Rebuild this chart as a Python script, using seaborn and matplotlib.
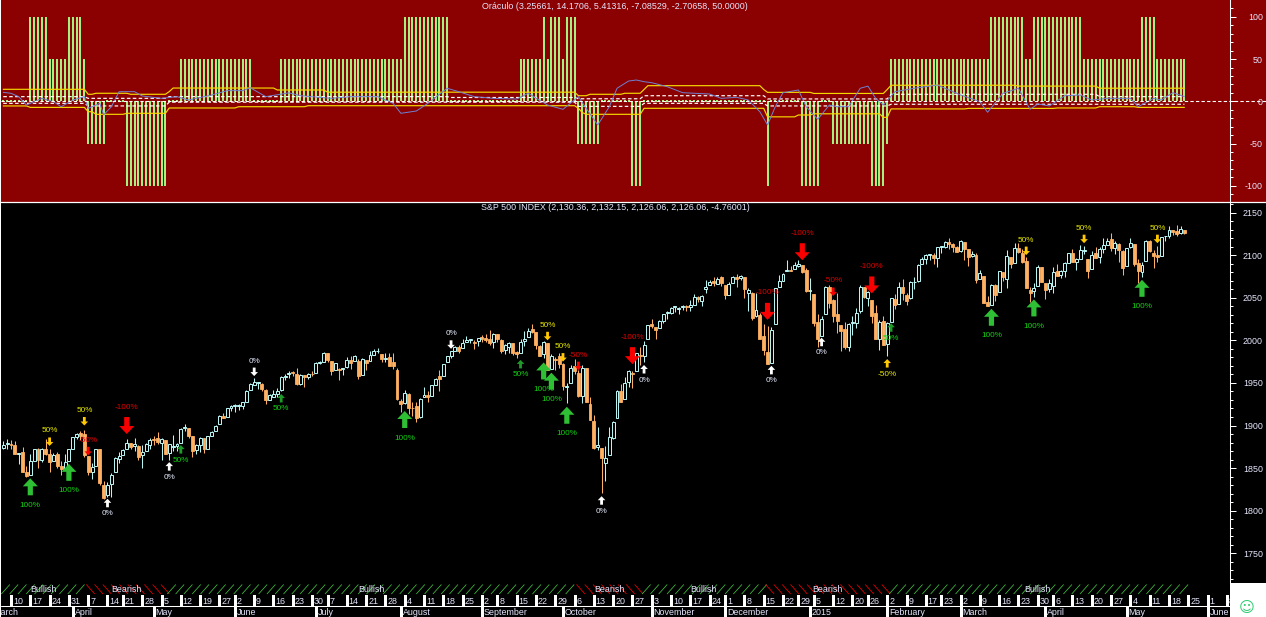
import numpy as np
import pandas as pd
import matplotlib
matplotlib.use('Agg')
import matplotlib.pyplot as plt
import seaborn as sns
from matplotlib.lines import Line2D
from matplotlib.patches import Polygon, Rectangle
from matplotlib.ticker import MultipleLocator

# daily S&P 500 candles, one line per week, first bar 2014-03-06
opens = [1874, 1878,
    1878, 1877, 1866, 1869, 1845, 1842, 1858, 1872, 1860, 1873, 1867, 1858, 1867, 1853, 1850,
    1858, 1873, 1886, 1891, 1890, 1864, 1845, 1852, 1872, 1830, 1818, 1831, 1846, 1861,
    1865, 1872, 1879, 1876, 1876, 1865, 1870, 1877, 1884, 1885, 1879, 1883, 1868, 1875, 1876,
    1880, 1897, 1897, 1888, 1871, 1877, 1885, 1873, 1888, 1893, 1902, 1911, 1910, 1920,
    1923, 1923, 1923, 1928, 1942, 1948, 1950, 1949, 1942, 1930, 1934, 1937, 1942, 1957, 1960,
    1963, 1961, 1949, 1959, 1957, 1961, 1962, 1973, 1975, 1985, 1976, 1965, 1966, 1966,
    1969, 1977, 1976, 1976, 1959, 1977, 1976, 1983, 1987, 1984, 1978, 1980, 1974, 1965, 1929,
    1926, 1937, 1921, 1923, 1910, 1933, 1936, 1935, 1947, 1958, 1958, 1974, 1981, 1987, 1992,
    1991, 1998, 2000, 1998, 1999, 2004, 2003, 2001, 1998, 2007, 2000, 1989, 1992, 1997,
    1986, 1985, 1999, 2004, 2013, 2010, 1993, 1984, 1997, 1966, 1978, 1981, 1972, 1945, 1950,
    1970, 1962, 1935, 1967, 1925, 1905, 1875, 1874, 1856, 1865, 1885, 1909, 1941, 1931, 1951,
    1962, 1964, 1983, 1982, 2002, 2019, 2016, 2015, 2023, 2032, 2032, 2039, 2037, 2039, 2040,
    2039, 2042, 2051, 2046, 2060, 2065, 2070, 2066, 2074, 2065, 2053, 2067, 2074, 2073,
    2074, 2056, 2056, 2028, 2030, 2005, 1986, 1973, 2019, 2062, 2070, 2081, 2083, 2084,
    2087, 2088, 2083, 2058, 2054, 2022, 2005, 2031, 2063, 2047, 2031, 2018, 2013, 1992,
    2020, 2020, 2034, 2062, 2050, 2047, 2032, 2002, 2023, 1996, 2022, 2048, 2043, 2062,
    2053, 2050, 2068, 2070, 2089, 2096, 2100, 2100, 2097, 2110, 2110, 2115, 2113, 2110,
    2105, 2115, 2107, 2099, 2100, 2072, 2076, 2045, 2041, 2065, 2057, 2080, 2072, 2098, 2091,
    2108, 2103, 2093, 2059, 2058, 2064, 2086, 2067, 2060, 2064, 2081, 2077, 2081, 2091,
    2102, 2092, 2096, 2105, 2096, 2084, 2102, 2098, 2107, 2112, 2119, 2108, 2113, 2105, 2087,
    2110, 2113, 2091, 2080, 2093, 2116, 2103, 2100, 2099, 2122, 2122, 2129, 2128, 2126, 2130]
closes = [1877, 1878,
    1877, 1867, 1868, 1846, 1841, 1858, 1872, 1860, 1872, 1866, 1857, 1865, 1852, 1849, 1857,
    1872, 1886, 1890, 1888, 1865, 1845, 1851, 1872, 1833, 1815, 1830, 1842, 1862, 1864,
    1871, 1879, 1875, 1878, 1863, 1869, 1878, 1883, 1883, 1881, 1884, 1867, 1878, 1875, 1878,
    1896, 1897, 1888, 1870, 1877, 1885, 1872, 1888, 1892, 1900, 1911, 1909, 1920, 1923,
    1924, 1924, 1927, 1940, 1949, 1951, 1950, 1943, 1930, 1936, 1937, 1941, 1957, 1957, 1962,
    1962, 1949, 1959, 1957, 1961, 1960, 1973, 1974, 1985, 1977, 1964, 1973, 1965, 1968,
    1977, 1973, 1981, 1958, 1978, 1973, 1983, 1987, 1987, 1978, 1978, 1970, 1970, 1931, 1925,
    1938, 1920, 1920, 1909, 1931, 1936, 1933, 1947, 1955, 1955, 1972, 1981, 1987, 1992, 1988,
    1997, 2000, 2000, 1997, 2003, 2002, 2000, 1997, 2007, 2001, 1988, 1995, 1997, 1985,
    1984, 1998, 2001, 2011, 2010, 1994, 1982, 1998, 1965, 1982, 1977, 1972, 1946, 1946, 1967,
    1964, 1935, 1968, 1928, 1906, 1874, 1877, 1862, 1862, 1886, 1904, 1941, 1927, 1950, 1964,
    1961, 1985, 1982, 1994, 2018, 2017, 2012, 2023, 2031, 2032, 2038, 2039, 2038, 2039, 2039,
    2041, 2051, 2048, 2052, 2063, 2069, 2067, 2072, 2067, 2053, 2066, 2074, 2072, 2075,
    2060, 2059, 2026, 2035, 2002, 1989, 1972, 2012, 2061, 2070, 2078, 2082, 2081, 2088,
    2090, 2080, 2058, 2058, 2020, 2002, 2025, 2062, 2044, 2028, 2023, 2011, 1992, 2019,
    2022, 2032, 2063, 2051, 2057, 2029, 2002, 2021, 1994, 2020, 2050, 2041, 2062, 2055,
    2046, 2068, 2068, 2088, 2096, 2100, 2100, 2097, 2110, 2110, 2115, 2113, 2110, 2104,
    2117, 2107, 2098, 2101, 2071, 2079, 2044, 2040, 2065, 2053, 2081, 2074, 2099, 2089, 2108,
    2104, 2092, 2061, 2056, 2061, 2086, 2068, 2059, 2067, 2080, 2076, 2081, 2091, 2102,
    2092, 2095, 2106, 2105, 2081, 2100, 2097, 2107, 2112, 2117, 2108, 2114, 2106, 2085, 2108,
    2114, 2089, 2081, 2088, 2116, 2105, 2099, 2098, 2121, 2122, 2129, 2127, 2125, 2131, 2126]
highs = [1882, 1884,
    1883, 1882, 1868, 1875, 1852, 1866, 1873, 1874, 1874, 1884, 1873, 1868, 1869, 1858, 1867,
    1873, 1886, 1891, 1893, 1895, 1864, 1856, 1872, 1873, 1835, 1834, 1844, 1863, 1869,
    1872, 1884, 1879, 1885, 1877, 1877, 1880, 1885, 1888, 1892, 1885, 1883, 1878, 1889, 1880,
    1897, 1902, 1897, 1888, 1878, 1887, 1885, 1888, 1894, 1901, 1912, 1915, 1921, 1924,
    1925, 1925, 1928, 1942, 1950, 1956, 1951, 1950, 1943, 1937, 1942, 1944, 1958, 1960, 1964,
    1964, 1968, 1960, 1959, 1962, 1964, 1974, 1976, 1986, 1985, 1976, 1973, 1967, 1968,
    1980, 1982, 1983, 1978, 1979, 1977, 1987, 1990, 1991, 1984, 1985, 1985, 1985, 1967, 1931,
    1942, 1938, 1927, 1928, 1932, 1945, 1940, 1948, 1956, 1965, 1972, 1982, 1987, 1993, 1994,
    2002, 2005, 2002, 2000, 2003, 2006, 2007, 2012, 2008, 2007, 2002, 1996, 1998, 1997,
    1987, 2002, 2011, 2014, 2019, 2010, 1995, 1999, 1997, 1984, 1980, 1985, 1973, 1950, 1971,
    1978, 1965, 1971, 1967, 1934, 1912, 1898, 1874, 1876, 1898, 1905, 1942, 1949, 1957, 1965,
    1964, 1985, 1992, 1999, 2018, 2025, 2016, 2024, 2031, 2034, 2039, 2040, 2039, 2042, 2042,
    2047, 2054, 2052, 2053, 2071, 2071, 2074, 2074, 2076, 2065, 2069, 2076, 2078, 2077,
    2074, 2061, 2057, 2056, 2032, 2019, 2017, 2016, 2061, 2077, 2079, 2094, 2087, 2092,
    2094, 2088, 2085, 2073, 2054, 2031, 2029, 2064, 2065, 2049, 2056, 2018, 2022, 2020,
    2029, 2038, 2065, 2063, 2058, 2047, 2042, 2024, 2029, 2022, 2050, 2054, 2068, 2072,
    2056, 2070, 2074, 2089, 2098, 2101, 2101, 2102, 2110, 2111, 2116, 2120, 2114, 2111,
    2118, 2115, 2107, 2105, 2102, 2082, 2076, 2052, 2066, 2066, 2081, 2080, 2106, 2098, 2114,
    2114, 2107, 2098, 2063, 2067, 2088, 2086, 2067, 2072, 2086, 2089, 2083, 2092, 2103,
    2107, 2097, 2112, 2111, 2096, 2105, 2110, 2109, 2120, 2120, 2126, 2116, 2114, 2106, 2108,
    2120, 2113, 2095, 2092, 2118, 2118, 2106, 2111, 2121, 2123, 2134, 2130, 2135, 2134, 2130]
lows = [1872, 1872,
    1873, 1866, 1855, 1845, 1840, 1842, 1858, 1850, 1857, 1865, 1846, 1858, 1850, 1842, 1850,
    1858, 1873, 1884, 1883, 1863, 1842, 1837, 1852, 1830, 1814, 1816, 1816, 1846, 1856,
    1865, 1872, 1873, 1870, 1859, 1850, 1870, 1872, 1877, 1878, 1860, 1867, 1859, 1870, 1870,
    1880, 1894, 1885, 1863, 1866, 1869, 1868, 1873, 1888, 1893, 1902, 1909, 1910, 1917,
    1916, 1918, 1919, 1928, 1942, 1947, 1943, 1940, 1925, 1930, 1934, 1933, 1941, 1953, 1956,
    1958, 1948, 1948, 1945, 1954, 1958, 1962, 1972, 1975, 1975, 1959, 1965, 1953, 1959,
    1968, 1966, 1976, 1955, 1959, 1965, 1976, 1983, 1985, 1975, 1974, 1970, 1966, 1930, 1916,
    1925, 1913, 1911, 1904, 1909, 1933, 1928, 1935, 1947, 1941, 1958, 1974, 1979, 1987, 1985,
    1991, 1998, 1997, 1990, 1993, 1998, 1998, 1994, 1991, 1998, 1985, 1984, 1985, 1983,
    1979, 1985, 1993, 2004, 2008, 1990, 1982, 1979, 1965, 1966, 1965, 1968, 1942, 1926, 1950,
    1960, 1934, 1926, 1927, 1906, 1873, 1871, 1821, 1835, 1865, 1884, 1909, 1927, 1931, 1945,
    1944, 1964, 1971, 1974, 2001, 2014, 2002, 2015, 2020, 2025, 2031, 2033, 2031, 2035, 2034,
    2034, 2042, 2045, 2040, 2056, 2065, 2064, 2066, 2064, 2048, 2053, 2067, 2062, 2071,
    2050, 2034, 2024, 2027, 2002, 1983, 1972, 1973, 2019, 2062, 2070, 2081, 2081, 2084,
    2086, 2079, 2057, 2047, 2017, 1992, 2005, 2031, 2038, 2022, 2008, 1988, 1990, 1988,
    2006, 2015, 2032, 2050, 2040, 2020, 2001, 1989, 1994, 1981, 2022, 2037, 2043, 2047,
    2041, 2048, 2060, 2069, 2089, 2090, 2094, 2090, 2086, 2103, 2108, 2107, 2104, 2104,
    2104, 2094, 2087, 2098, 2067, 2072, 2044, 2040, 2041, 2046, 2057, 2070, 2061, 2085, 2091,
    2103, 2091, 2061, 2045, 2051, 2064, 2068, 2049, 2057, 2056, 2075, 2073, 2074, 2091,
    2092, 2083, 2096, 2101, 2073, 2084, 2097, 2091, 2103, 2112, 2105, 2101, 2092, 2077, 2087,
    2108, 2087, 2067, 2074, 2093, 2104, 2085, 2092, 2099, 2117, 2120, 2124, 2122, 2125, 2125]

# oscillator signal per bar, as level and number of bars
signal_levels = [0, 100, 50, 100, 50, -50, 0, -100, 0, 50, 0, 50, 100, 0, 50, 100, 50, 100, 50, 100,
    -50, 0, -100, 0, -100, 0, -100, 0, -50, -100, -50, 50, 100, 50, 100, 50, 100, 50]
signal_runs = [7, 5, 5, 4, 1, 5, 5, 11, 3, 19, 7, 32, 12, 18, 6, 1, 1, 3, 1, 3,
    6, 8, 3, 32, 1, 8, 5, 3, 10, 4, 1, 26, 9, 2, 13, 15, 4, 8]

upper_levels = [14.2, 8.3, 9.5, 8.3, 11.5, 15.7, 13.4, 10.8, 6.6, 8.3, 9.5, 14, 18.5, 14, 10.6, 9.3, 14, 19, 18, 15.5]
upper_runs = [22, 2, 9, 10, 1, 27, 13, 65, 3, 9, 5, 1, 30, 1, 12, 19, 1, 33, 21, 23]
lower_levels = [-5.5, -7.2, -12.3, -15.4, -14.2, -7.9, -6.4, -5.2, -8.3, -13.3, -15.4, -8.3, -18.4, -16.2, -14.8, -19, -9, -8.4, -7.9, -6.4, -7.2]
lower_runs = [7, 15, 2, 8, 11, 18, 18, 70, 1, 1, 15, 32, 8, 4, 18, 2, 20, 23, 11, 10, 13]
white_upper_levels = [5.5, 3.5, 5.5, 4.5, 3, 6.6, 2.8, 8.3, 5.5]
white_upper_runs = [22, 21, 73, 33, 17, 32, 32, 54, 23]
white_lower_levels = [-2.4, -5.5, -1, -6, -2.4, -5.5, -3.5]
white_lower_runs = [22, 21, 106, 17, 32, 32, 77]

blue_bars = [0, 2, 4, 6, 8, 10, 13, 15, 18, 21, 22, 25, 26, 28, 30, 34, 36, 41, 45, 48, 54, 58, 62, 64, 68, 74, 77, 85,
    90, 97, 101, 103, 107, 110, 115, 118, 122, 127, 133, 136, 141, 145, 149, 151, 154, 157, 159, 162, 164, 166,
    168, 172, 176, 183, 186, 190, 193, 196, 198, 200, 202, 206, 208, 211, 214, 216, 219, 222, 224, 226, 228, 231,
    236, 242, 248, 253, 255, 259, 263, 266, 268, 271, 275, 279, 282, 286, 292, 294, 298, 300, 303, 306]
blue_values = [10.6, 9.5, 5.5, -4.4, -0.4, 3.5, -0.4, -6.4, 1.5, 5.5, -8.3, -2.4, -16, -6.4, 11.4, 11.4, 6.3, 3.5, 5.5, 1.5, 7.5, 12.6, 12.6, 16, 5.5, 10, 6.6, 3.5,
    5.5, 5.5, -2.4, -14.2, -11.5, -2.4, 15.4, 11.4, 5.5, 3.5, 2.7, 9.5, -4.4, -9.5, 5.5, -8.3, -28, -6.4, 15.4, 24, 25.2, 23.2,
    22, 17.3, 10.2, 8.6, 3.5, 4.7, 1.5, -12.3, -28, -6.4, 10.2, 13.4, -6.4, -21.3, -4.4, -6.4, -6.4, 15.4, 18, 3.5, -4.4, 11.4,
    15.4, 19.3, 7.5, -0.4, -13, 9.5, 15.4, -9.5, -3.2, -5.5, 6.6, 7.5, 1.5, 3.5, 3.5, -6.4, 3.5, 1.5, 10.2, 5.5]

# signal arrows on the price pane
arrow_bars = [7, 17, 104, 140, 142, 146, 256, 267, 295,
    32, 163, 198, 207, 225,
    22, 149, 215,
    12, 21, 141, 145, 265, 280, 299,
    46, 72, 134, 230,
    27, 43, 155, 166, 199, 212,
    65, 116,
    229]
arrow_prices = [1838, 1855, 1917, 1974, 1962, 1922, 2037, 2048, 2071,
    1890, 1972, 2024, 2094, 2055,
    1865, 1965, 2052,
    1876, 1900, 2000, 1975, 2100, 2114, 2114,
    1877, 1937, 1977, 2020,
    1814, 1857, 1817, 1971, 1970, 2003,
    1958, 1990,
    1978]
arrow_kinds = ['buy'] * 9 + ['sell'] * 5 + ['half_sell'] * 3 + ['half_warn'] * 7 + ['half_buy'] * 4 + ['flat_up'] * 6 + ['flat_down'] * 2 + ['warn_up']

regime_labels = ['Bullish', 'Bearish', 'Bullish', 'Bearish', 'Bullish', 'Bearish', 'Bullish']
regime_runs = [22, 21, 106, 17, 32, 32, 77]

week_dates = ['2014-03-10', '2014-03-17', '2014-03-24', '2014-03-31', '2014-04-07', '2014-04-14', '2014-04-21', '2014-04-28',
    '2014-05-05', '2014-05-12', '2014-05-19', '2014-05-27', '2014-06-02', '2014-06-09', '2014-06-16', '2014-06-23', '2014-06-30',
    '2014-07-07', '2014-07-14', '2014-07-21', '2014-07-28', '2014-08-04', '2014-08-11', '2014-08-18', '2014-08-25',
    '2014-09-02', '2014-09-08', '2014-09-15', '2014-09-22', '2014-09-29', '2014-10-06', '2014-10-13', '2014-10-20', '2014-10-27',
    '2014-11-03', '2014-11-10', '2014-11-17', '2014-11-24', '2014-12-01', '2014-12-08', '2014-12-15', '2014-12-22', '2014-12-29',
    '2015-01-05', '2015-01-12', '2015-01-20', '2015-01-26', '2015-02-02', '2015-02-09', '2015-02-17', '2015-02-23',
    '2015-03-02', '2015-03-09', '2015-03-16', '2015-03-23', '2015-03-30', '2015-04-06', '2015-04-13', '2015-04-20', '2015-04-27',
    '2015-05-04', '2015-05-11', '2015-05-18', '2015-05-25', '2015-06-01', '2015-06-08']
month_dates = ['2014-03-03', '2014-04-01', '2014-05-01', '2014-06-02', '2014-07-01', '2014-08-01', '2014-09-02', '2014-10-01',
    '2014-11-03', '2014-12-01', '2015-01-02', '2015-02-02', '2015-03-02', '2015-04-01', '2015-05-01', '2015-06-01']
month_labels = ['March', 'April', 'May', 'June', 'July', 'August', 'September', 'October',
    'November', 'December', '2015', 'February', 'March', 'April', 'May', 'June']
holidays = ['2014-04-18', '2014-05-26', '2014-07-04', '2014-09-01', '2014-11-27', '2014-12-25',
    '2015-01-01', '2015-01-19', '2015-02-16', '2015-04-03']

RED = '#8B0000'
CYAN = '#B6F4F4'
ORANGE = '#FFB163'
LIME = '#A6F782'
YELLOW = '#F5D800'
BLUE = '#6F82D2'
TEXT = '#E6E6FF'

W, H = 1266, 617
BAR_PX = 3.86          # pixels per bar
FIRST_PX = 3.28        # pixel of bar 0
PRICE_PX = 1.1737      # points per pixel on the price pane

sns.set_theme(style='dark')
plt.rcParams['font.family'] = ['Liberation Sans', 'DejaVu Sans']
plt.rcParams['font.size'] = 6.4
plt.rcParams['axes.unicode_minus'] = False

fig = plt.figure(figsize=(W / 100, H / 100), dpi=100, facecolor='black')


def px_axes(left, top, right, bottom):
    return fig.add_axes([left / W, 1 - bottom / H, (right - left) / W, (bottom - top) / H])


def px_x(x):
    return (x - FIRST_PX) / BAR_PX


def fig_text(x, y, s, **kw):
    fig.text(x / W, 1 - y / H, s, va='center', **kw)


df = pd.DataFrame({'open': opens, 'high': highs, 'low': lows, 'close': closes})
df['bar'] = np.arange(len(df))
df['signal'] = np.repeat(signal_levels, signal_runs)
df['upper'] = np.repeat(upper_levels, upper_runs)
df['lower'] = np.repeat(lower_levels, lower_runs)
df['white_upper'] = np.repeat(white_upper_levels, white_upper_runs)
df['white_lower'] = np.repeat(white_lower_levels, white_lower_runs)

fig.patches.append(Rectangle((0, 1 - 201.5 / H), 1, 201.5 / H, transform=fig.transFigure, facecolor=RED, edgecolor='none', zorder=-1))
fig.patches.append(Rectangle((1230 / W, 0), 36 / W, 34 / H, transform=fig.transFigure, facecolor='white', edgecolor='none', zorder=-1))

# oscillator pane
ax_osc = px_axes(1, 0, 1230, 201)
ax_osc.set_facecolor(RED)
ax_osc.vlines(df['bar'], 0, df['signal'], color=LIME, linewidth=1.4)
sns.scatterplot(data=df[df['signal'] == 0], x='bar', y='signal', ax=ax_osc, color=LIME, marker='s', s=2.5, linewidth=0)
for col, color, dash in [('upper', YELLOW, None), ('lower', YELLOW, None),
                         ('white_upper', 'white', (3, 2)), ('white_lower', 'white', (3, 2))]:
    line = sns.lineplot(data=df, x='bar', y=col, ax=ax_osc, color=color, linewidth=0.85, errorbar=None).lines[-1]
    if dash:
        line.set_dashes(dash)
sns.lineplot(x=blue_bars, y=blue_values, ax=ax_osc, color=BLUE, linewidth=0.7, errorbar=None)
ax_osc.set_ylim(-118, 119.9)
ax_osc.yaxis.set_major_locator(MultipleLocator(50))
ax_osc.yaxis.set_minor_locator(MultipleLocator(10))
fig.add_artist(Line2D([1 / W, 1], [1 - 101.3 / H] * 2, color='white', linewidth=0.8, dashes=(3, 2)))

# price pane
ax = px_axes(1, 203, 1230, 583)
ax.set_facecolor('black')
up = df[df['close'] >= df['open']]
down = df[df['close'] < df['open']]
ax.vlines(up['bar'], up['low'], up['high'], color=CYAN, linewidth=0.75)
ax.vlines(down['bar'], down['low'], down['high'], color=ORANGE, linewidth=0.75)
ax.bar(down['bar'], (down['open'] - down['close']).clip(lower=1), bottom=down['close'], width=0.76,
       color=ORANGE, edgecolor=ORANGE, linewidth=0.6)
ax.bar(up['bar'], (up['close'] - up['open']).clip(lower=1), bottom=up['open'], width=0.76,
       color='black', edgecolor=CYAN, linewidth=0.72, zorder=3)
ax.set_ylim(2150 - (583 - 212.5) * PRICE_PX, 2150 + 9.5 * PRICE_PX)
ax.yaxis.set_major_locator(MultipleLocator(50))
ax.yaxis.set_minor_locator(MultipleLocator(10))

kinds = {
    'buy': dict(color='#2FBF35', text='100%', tcolor='#14D214', big=True, d=1),
    'sell': dict(color='#F80000', text='-100%', tcolor='#E00000', big=True, d=-1),
    'half_sell': dict(color='#F80000', text='-50%', tcolor='#E00000', big=False, d=-1),
    'half_warn': dict(color='#FFC800', text='50%', tcolor='#E8E800', big=False, d=-1),
    'half_buy': dict(color='#1E9A28', text='50%', tcolor='#14D214', big=False, d=1),
    'flat_up': dict(color='white', text='0%', tcolor='#E6ECFF', big=False, d=1),
    'flat_down': dict(color='white', text='0%', tcolor='#E6ECFF', big=False, d=-1),
    'warn_up': dict(color='#FFC800', text='-50%', tcolor='#E8E800', big=False, d=1),
}
for bar, price, name in zip(arrow_bars, arrow_prices, arrow_kinds):
    k = kinds[name]
    height, head, half_head, half_shaft, gap = (17, 8, 7.5, 2.6, 27) if k['big'] else (8.5, 4, 3.8, 1.4, 15)
    sx = 1 / BAR_PX
    sy = PRICE_PX * k['d']
    shape = [(0, 0), (half_head, head), (half_shaft, head), (half_shaft, height),
             (-half_shaft, height), (-half_shaft, head), (-half_head, head)]
    ax.add_patch(Polygon([(bar + a * sx, price - b * sy) for a, b in shape], closed=True,
                         facecolor=k['color'], edgecolor='none', zorder=5))
    ax.text(bar, price - gap * sy, k['text'], color=k['tcolor'], fontsize=5.9, ha='center', va='center', zorder=6)

for a in (ax_osc, ax):
    a.set_xlim(px_x(1), px_x(1230))
    a.set_xticks([])
    a.set_xlabel('')
    a.set_ylabel('')
    a.yaxis.tick_right()
    a.tick_params(axis='y', which='major', length=4.3, width=0.72, color='white', labelcolor=TEXT,
                  labelsize=6.4, pad=19.4, left=False, right=True)
    a.tick_params(axis='y', which='minor', length=2.2, width=0.72, color='white', left=False, right=True)
    for label in a.get_yticklabels():
        label.set_ha('right')
    for side, spine in a.spines.items():
        spine.set_visible(side == 'right')
        spine.set_color('white')
        spine.set_linewidth(0.75)

# time strip under the price pane
ax_time = px_axes(1, 583, 1230, 617)
ax_time.set_facecolor('black')
ax_time.set_xlim(px_x(1), px_x(1230))
ax_time.set_ylim(617, 583)
ax_time.axis('off')

edges = np.concatenate([[0], np.cumsum(regime_runs)]) - 0.5
for label, start, stop in zip(regime_labels, edges[:-1], edges[1:]):
    bullish = label == 'Bullish'
    for x0 in np.arange(start, stop - 1.5, 2.15):
        xs = [x0, x0 + 2.2]
        ys = [594, 584.5] if bullish else [584.5, 594]
        ax_time.plot(xs, ys, color='#3FC23F' if bullish else '#F00000', linewidth=0.55, solid_capstyle='butt')
    ax_time.text((start + stop) / 2, 589.5, label, color=TEXT, fontsize=6.4, ha='center', va='center', clip_on=True)

calendar = pd.bdate_range('2014-03-03', '2015-06-12').difference(pd.to_datetime(holidays))
bar_zero = calendar.get_loc(pd.Timestamp('2014-03-06'))
week_pos = [calendar.get_loc(pd.Timestamp(d)) - bar_zero for d in week_dates]
month_pos = [calendar.get_loc(pd.Timestamp(d)) - bar_zero for d in month_dates]

ax_time.vlines(week_pos, 595, 606, color='white', linewidth=0.75, antialiased=False)
ax_time.vlines(month_pos, 606, 617, color='white', linewidth=0.75, antialiased=False)
ax_time.plot(ax_time.get_xlim(), [606, 606], color='white', linewidth=0.75)
for pos, d in zip(week_pos, week_dates):
    ax_time.text(pos + 0.5, 601, str(pd.Timestamp(d).day), color=TEXT, fontsize=6.4, ha='left', va='center', clip_on=True)
for pos, label in zip(month_pos, month_labels):
    ax_time.text(pos + 0.5, 612.3, label, color=TEXT, fontsize=6.4, ha='left', va='center', clip_on=True)

# frame lines and titles
fig.patches.append(Rectangle((0, 0), 1 / W, 1, transform=fig.transFigure, facecolor='white', edgecolor='none', zorder=5))
fig.add_artist(Line2D([0, 1], [1 - 202.3 / H] * 2, color='white', linewidth=0.9))
fig_text(615, 6.5, 'Oráculo (3.25661, 14.1706, 5.41316, -7.08529, -2.70658, 50.0000)', color=TEXT, fontsize=6.4, ha='center')
fig_text(615, 208, 'S&P 500 INDEX (2,130.36, 2,132.15, 2,126.06, 2,126.06, -4.76001)', color=TEXT, fontsize=6.4, ha='center')
fig_text(1247, 607.5, '☺', color='#2ECC71', fontsize=11, ha='center', family=['DejaVu Sans'])

fig.savefig('out.png', dpi=100, facecolor='black')
